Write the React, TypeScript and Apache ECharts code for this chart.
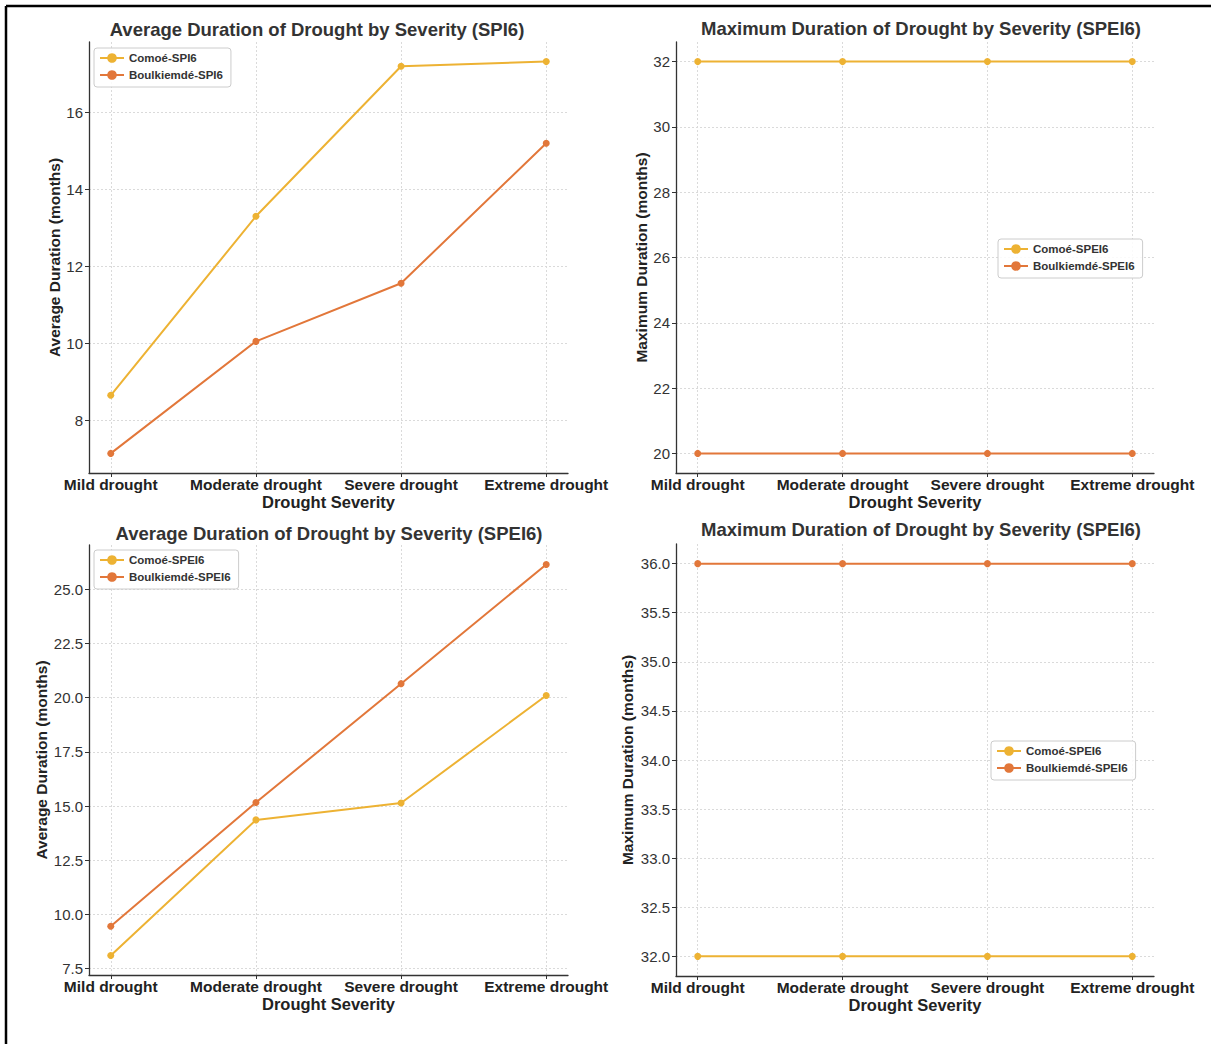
import React, { useEffect, useRef } from "react";
import * as echarts from "echarts";

// Drought severity classes shared by every panel
const severities = ["Mild drought", "Moderate drought", "Severe drought", "Extreme drought"];

// Average duration (months), SPI6
const comoeSpi6Avg = [8.65, 13.3, 17.2, 17.32];
const boulkiemdeSpi6Avg = [7.14, 10.05, 11.56, 15.2];

// Maximum duration (months), SPEI6 – upper panel
const comoeSpei6MaxA = [32, 32, 32, 32];
const boulkiemdeSpei6MaxA = [20, 20, 20, 20];

// Average duration (months), SPEI6
const comoeSpei6Avg = [8.1, 14.36, 15.14, 20.1];
const boulkiemdeSpei6Avg = [9.45, 15.16, 20.65, 26.15];

// Maximum duration (months), SPEI6 – lower panel
const comoeSpei6MaxB = [32, 32, 32, 32];
const boulkiemdeSpei6MaxB = [36, 36, 36, 36];

// Y tick values for each panel
const ticksAvgSpi6 = [8, 10, 12, 14, 16];
const ticksMaxA = [20, 22, 24, 26, 28, 30, 32];
const ticksAvgSpei6 = [7.5, 10, 12.5, 15, 17.5, 20, 22.5, 25];
const ticksMaxB = [32, 32.5, 33, 33.5, 34, 34.5, 35, 35.5, 36];

const YELLOW = "#EDB233";
const ORANGE = "#E2773A";
const FONT = "'Liberation Sans', Arial, Helvetica, sans-serif";

// 5% padding around the data range, like a default plotting margin
function padExtent(values: number[]): [number, number] {
  const lo = Math.min(...values);
  const hi = Math.max(...values);
  const m = (hi - lo) * 0.05;
  return [lo - m, hi + m];
}

type Panel = {
  title: string;
  titleX: number;
  titleY: number;
  grid: { left: number; top: number; width: number; height: number };
  yName: string;
  yNameGap: number;
  ticks: number[];
  decimals: number;
  seriesA: { name: string; data: number[] };
  seriesB: { name: string; data: number[] };
  legend: { left: number; top: number };
};

const panels: Panel[] = [
  {
    title: "Average Duration of Drought by Severity (SPI6)",
    titleX: 317,
    titleY: 20,
    grid: { left: 89, top: 42, width: 479, height: 431 },
    yName: "Average Duration (months)",
    yNameGap: 26,
    ticks: ticksAvgSpi6,
    decimals: 0,
    seriesA: { name: "Comoé-SPI6", data: comoeSpi6Avg },
    seriesB: { name: "Boulkiemdé-SPI6", data: boulkiemdeSpi6Avg },
    legend: { left: 94, top: 48 },
  },
  {
    title: "Maximum Duration of Drought by Severity (SPEI6)",
    titleX: 921,
    titleY: 19,
    grid: { left: 676, top: 42, width: 478, height: 431 },
    yName: "Maximum Duration (months)",
    yNameGap: 27,
    ticks: ticksMaxA,
    decimals: 0,
    seriesA: { name: "Comoé-SPEI6", data: comoeSpei6MaxA },
    seriesB: { name: "Boulkiemdé-SPEI6", data: boulkiemdeSpei6MaxA },
    legend: { left: 998, top: 239 },
  },
  {
    title: "Average Duration of Drought by Severity (SPEI6)",
    titleX: 329,
    titleY: 524,
    grid: { left: 89, top: 545, width: 479, height: 430 },
    yName: "Average Duration (months)",
    yNameGap: 39,
    ticks: ticksAvgSpei6,
    decimals: 1,
    seriesA: { name: "Comoé-SPEI6", data: comoeSpei6Avg },
    seriesB: { name: "Boulkiemdé-SPEI6", data: boulkiemdeSpei6Avg },
    legend: { left: 94, top: 550 },
  },
  {
    title: "Maximum Duration of Drought by Severity (SPEI6)",
    titleX: 921,
    titleY: 520,
    grid: { left: 676, top: 544, width: 478, height: 432 },
    yName: "Maximum Duration (months)",
    yNameGap: 41,
    ticks: ticksMaxB,
    decimals: 1,
    seriesA: { name: "Comoé-SPEI6", data: comoeSpei6MaxB },
    seriesB: { name: "Boulkiemdé-SPEI6", data: boulkiemdeSpei6MaxB },
    legend: { left: 991, top: 741 },
  },
];

const xPositions = severities.map((_, i) => i);

function buildOption() {
  const title: any[] = [];
  const grid: any[] = [];
  const xAxis: any[] = [];
  const yAxis: any[] = [];
  const legend: any[] = [];
  const series: any[] = [];

  panels.forEach((p, i) => {
    title.push({
      text: p.title,
      left: p.titleX,
      top: p.titleY,
      textAlign: "center",
      padding: 0,
      textStyle: { fontFamily: FONT, fontSize: 18.5, fontWeight: "bold", color: "#333" },
    });
    grid.push({ ...p.grid, containLabel: false });

    xAxis.push({
      type: "value",
      gridIndex: i,
      min: -0.15,
      max: 3.15,
      name: "Drought Severity",
      nameLocation: "middle",
      nameGap: 20,
      nameTextStyle: { fontFamily: FONT, fontSize: 16.5, fontWeight: "bold", color: "#222" },
      axisLine: { show: true, onZero: false, lineStyle: { color: "#333", width: 1.3 } },
      axisTick: { show: true, length: 4, customValues: xPositions, lineStyle: { color: "#333" } },
      axisLabel: {
        customValues: xPositions,
        margin: 3,
        fontFamily: FONT,
        fontSize: 15.5,
        fontWeight: "bold",
        color: "#222",
        formatter: (v: number) => severities[Math.round(v)] ?? "",
      },
      splitLine: { show: true, lineStyle: { color: "#dadada", type: [2, 2], width: 1 } },
    });

    const [ymin, ymax] = padExtent([...p.seriesA.data, ...p.seriesB.data]);
    yAxis.push({
      type: "value",
      gridIndex: i,
      min: ymin,
      max: ymax,
      name: p.yName,
      nameLocation: "middle",
      nameGap: p.yNameGap,
      nameTextStyle: { fontFamily: FONT, fontSize: 15.5, fontWeight: "bold", color: "#222" },
      axisLine: { show: true, onZero: false, lineStyle: { color: "#333", width: 1.3 } },
      axisTick: { show: true, length: 4, customValues: p.ticks, lineStyle: { color: "#333" } },
      axisLabel: {
        customValues: p.ticks,
        margin: 6,
        fontFamily: FONT,
        fontSize: 15,
        color: "#333",
        formatter: (v: number) => v.toFixed(p.decimals),
      },
      splitLine: { show: true, lineStyle: { color: "#dadada", type: [2, 2], width: 1 } },
    });

    legend.push({
      left: p.legend.left,
      top: p.legend.top,
      orient: "vertical",
      data: [p.seriesA.name, p.seriesB.name],
      itemWidth: 24,
      itemHeight: 12,
      itemGap: 5,
      padding: [4, 8, 6, 5],
      backgroundColor: "rgba(255,255,255,0.85)",
      borderColor: "#cccccc",
      borderWidth: 1,
      borderRadius: 3,
      textStyle: { fontFamily: FONT, fontSize: 11.5, fontWeight: "bold", color: "#333" },
    });

    [
      { s: p.seriesA, color: YELLOW, z: 3 },
      { s: p.seriesB, color: ORANGE, z: 4 },
    ].forEach(({ s, color, z }) => {
      series.push({
        type: "line",
        name: s.name,
        xAxisIndex: i,
        yAxisIndex: i,
        data: s.data.map((v, k) => [xPositions[k], v]),
        symbol: "circle",
        symbolSize: 7,
        showSymbol: true,
        z,
        itemStyle: { color },
        lineStyle: { color, width: 2 },
      });
    });
  });

  return {
    animation: false,
    backgroundColor: "#ffffff",
    textStyle: { fontFamily: FONT },
    title,
    grid,
    xAxis,
    yAxis,
    legend,
    series,
    graphic: [
      { type: "line", shape: { x1: 6, y1: 6, x2: 1215, y2: 6 }, style: { stroke: "#000", lineWidth: 2.5 } },
      { type: "line", shape: { x1: 6, y1: 6, x2: 6, y2: 1050 }, style: { stroke: "#000", lineWidth: 2.5 } },
    ],
  };
}

export default function App() {
  const ref = useRef<HTMLDivElement>(null);

  useEffect(() => {
    document.body.style.margin = "0";
    if (!ref.current) return;
    const chart = echarts.init(ref.current, undefined, { renderer: "svg" });
    chart.setOption(buildOption() as any);
    return () => chart.dispose();
  }, []);

  return <div ref={ref} style={{ width: 1211, height: 1044 }} />;
}
